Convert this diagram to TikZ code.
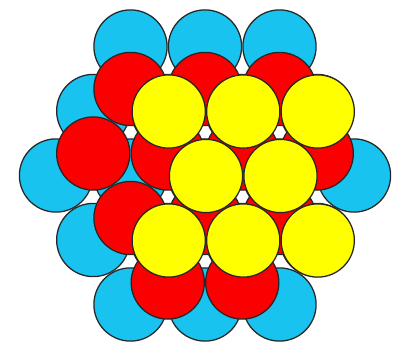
\documentclass[tikz,border=0pt]{standalone}
\usetikzlibrary{calc}

\definecolor{layerA}{RGB}{25,195,240}
\definecolor{layerB}{RGB}{250,0,0}
\definecolor{layerC}{RGB}{255,255,0}

\begin{document}
\begin{tikzpicture}[
		x=0.025cm, y=-0.025cm,
		ball/.style={circle, draw=black!85, line width=0.9pt, minimum size=1.83cm, inner sep=0pt}
		]
		\useasboundingbox (0,0) rectangle (410,347);
		\def\sp{74.5}
		\def\rh{64.5}
		
		% ==========================================
		% 1. BOTTOM LAYER (A, hexagon of 19)
		% ==========================================
		% Data format: row / x offsets (in units of \sp)
		\foreach \r/\xs in {
			-2/{-1,0,1},
			-1/{-1.5,-0.5,0.5,1.5},
			0/{-2,-1,0,1,2},
			1/{-1.5,-0.5,0.5,1.5},
			2/{-1,0,1}%
		} {
			\foreach \dx [count=\k] in \xs {
				\node[ball, fill=layerA] (a\r-\k) at (205+\dx*\sp, 175.5+\r*\rh) {};
			}
		}
		
		% ==========================================
		% 2. MIDDLE LAYER (B, in the hollows)
		% ==========================================
		\foreach \r/\xs in {
			0/{-1,0,1},
			1/{-1.5,-0.5,0.5,1.5},
			2/{-1,0,1},
			3/{-0.5,0.5}%
		} {
			\foreach \dx [count=\k] in \xs {
				\node[ball, fill=layerB] (b\r-\k) at (205+\dx*\sp, 89+\r*\rh) {};
			}
		}
		
		% ==========================================
		% 3. TOP LAYER (C, above the A sites)
		% ==========================================
		\foreach \r/\xs in {
			-1/{-0.5,0.5,1.5},
			0/{0,1},
			1/{-0.5,0.5,1.5}%
		} {
			\foreach \dx [count=\k] in \xs {
				\node[ball, fill=layerC] (c\r-\k) at (206+\dx*\sp, 176+\r*\rh) {};
			}
		}
		
	\end{tikzpicture}
\end{document}
